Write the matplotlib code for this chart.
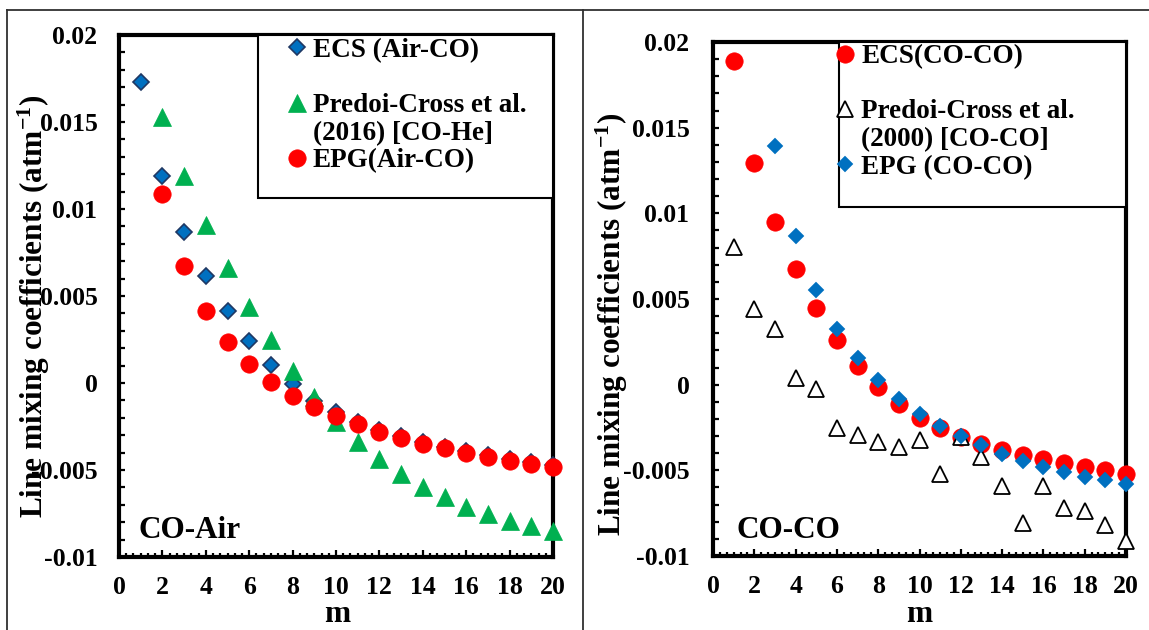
import matplotlib
matplotlib.use("Agg")
import matplotlib.pyplot as plt
from matplotlib.lines import Line2D
from matplotlib.patches import Rectangle
from matplotlib.ticker import FixedLocator, MultipleLocator, FixedFormatter

# ---- data -------------------------------------------------------------
m = list(range(1, 21))

# CO-Air panel
ecs_air_co = [0.01732, 0.01192, 0.00868, 0.00617, 0.00411, 0.00240, 0.00106,
              -0.00007, -0.00102, -0.00169, -0.00222, -0.00270, -0.00307,
              -0.00340, -0.00367, -0.00393, -0.00414, -0.00437, -0.00455,
              -0.00474]
predoi_2016_co_he = [0.01527, 0.01192, 0.00910, 0.00663, 0.00439, 0.00247,
                     0.00069, -0.00083, -0.00222, -0.00337, -0.00436,
                     -0.00522, -0.00596, -0.00656, -0.00711, -0.00755,
                     -0.00792, -0.00824, -0.00850]
m_predoi_2016 = list(range(2, 21))
epg_air_co = [0.01088, 0.00672, 0.00413, 0.00238, 0.00109, 0.00005, -0.00072,
              -0.00139, -0.00192, -0.00233, -0.00279, -0.00316, -0.00349,
              -0.00376, -0.00402, -0.00423, -0.00446, -0.00464, -0.00483]
m_epg_air = list(range(2, 21))

# CO-CO panel
ecs_co_co = [0.01890, 0.01296, 0.00949, 0.00673, 0.00446, 0.00262, 0.00109,
             -0.00012, -0.00115, -0.00193, -0.00253, -0.00303, -0.00345,
             -0.00380, -0.00410, -0.00436, -0.00460, -0.00481, -0.00499,
             -0.00523]
predoi_2000_co_co = [0.00801, 0.00444, 0.00327, 0.00037, -0.00024, -0.00251,
                     -0.00291, -0.00333, -0.00361, -0.00324, -0.00520,
                     -0.00303, -0.00422, -0.00590, -0.00806, -0.00590,
                     -0.00719, -0.00738, -0.00817, -0.00911]
epg_co_co = [0.01394, 0.00867, 0.00551, 0.00327, 0.00158, 0.00025, -0.00083,
             -0.00169, -0.00241, -0.00298, -0.00352, -0.00406, -0.00443,
             -0.00478, -0.00511, -0.00537, -0.00558, -0.00579]
m_epg_co = list(range(3, 21))

x_ticks = list(range(0, 21, 2))
y_ticks = [-0.01, -0.005, 0, 0.005, 0.01, 0.015, 0.02]
y_tick_labels = ["-0.01", "-0.005", "0", "0.005", "0.01", "0.015", "0.02"]

# ---- style ------------------------------------------------------------
plt.rcParams["font.family"] = ["Liberation Serif", "DejaVu Serif"]
plt.rcParams["font.weight"] = "bold"
plt.rcParams["mathtext.fontset"] = "custom"
plt.rcParams["mathtext.rm"] = "Liberation Serif:bold"
plt.rcParams["mathtext.it"] = "Liberation Serif:bold"
plt.rcParams["mathtext.bf"] = "Liberation Serif:bold"

W, H = 1149, 630
fig = plt.figure(figsize=(W / 100, H / 100), dpi=100)
fig.patch.set_facecolor("white")


def px_axes(x0, y0, x1, y1):
    return fig.add_axes([x0 / W, 1 - y1 / H, (x1 - x0) / W, (y1 - y0) / H])


ax1 = px_axes(119, 35, 553, 557)
ax2 = px_axes(713, 42, 1126, 556)

TICK_FS = 18.5
LABEL_FS = 22.5
LEG_FS = 19.5
ylabel_text = r"Line mixing coefficients (atm$^{\mathbf{-1}}$)"


def style_axes(ax, ylab_xy, xlab_xy, ypad):
    ax.set_xlim(0, 20)
    ax.set_ylim(-0.01, 0.02)
    ax.xaxis.set_major_locator(FixedLocator(x_ticks))
    ax.xaxis.set_minor_locator(MultipleLocator(1 / 3))
    ax.yaxis.set_major_locator(FixedLocator(y_ticks))
    ax.yaxis.set_major_formatter(FixedFormatter(y_tick_labels))
    ax.yaxis.set_minor_locator(MultipleLocator(0.001))
    for s in ax.spines.values():
        s.set_linewidth(3)
        s.set_color("black")
    ax.tick_params(axis="both", which="both", direction="in", color="black",
                   width=1.6, top=False, right=False)
    ax.tick_params(axis="y", which="major", length=4.5, pad=ypad,
                   labelsize=TICK_FS)
    ax.tick_params(axis="y", which="minor", length=4.5)
    ax.tick_params(axis="x", which="major", length=5, pad=14,
                   labelsize=TICK_FS)
    ax.tick_params(axis="x", which="minor", length=3)
    for lab in ax.get_xticklabels() + ax.get_yticklabels():
        lab.set_fontweight("bold")
    ax.set_ylabel(ylabel_text, fontsize=LABEL_FS, fontweight="bold")
    ax.yaxis.set_label_coords(*ylab_xy)
    ax.yaxis.label.set_va("center")
    ax.set_xlabel("m", fontsize=LABEL_FS, fontweight="bold")
    ax.xaxis.set_label_coords(*xlab_xy)
    ax.xaxis.label.set_va("center")


style_axes(ax1, (-0.196, 0.481), (0.502, -0.110), 15.5)
style_axes(ax2, (-0.245, 0.451), (0.499, -0.114), 17)

# ---- CO-Air panel -----------------------------------------------------
l_ecs, = ax1.plot(m, ecs_air_co, linestyle="none", marker="D", ms=8.4,
                  mfc="#0070C0", mec="#1F3864", mew=1.2, clip_on=False,
                  zorder=3)
l_tri, = ax1.plot(m_predoi_2016, predoi_2016_co_he, linestyle="none",
                  marker="^", ms=12.5, mfc="#00B050", mec="#00B050", mew=0.5,
                  clip_on=False, zorder=4)
l_epg, = ax1.plot(m_epg_air, epg_air_co, linestyle="none", marker="o",
                  ms=12.5, mfc="#FF0000", mec="#FF0000", mew=0.5,
                  clip_on=False, zorder=5)
ax1.text(0.046, 0.036, "CO-Air", transform=ax1.transAxes, fontsize=22.5,
         fontweight="bold", va="baseline", ha="left")

# ---- CO-CO panel ------------------------------------------------------
r_ecs, = ax2.plot(m, ecs_co_co, linestyle="none", marker="o", ms=12.5,
                  mfc="#FF0000", mec="#FF0000", mew=0.5, clip_on=False,
                  zorder=3)
r_tri, = ax2.plot(m, predoi_2000_co_co, linestyle="none", marker="^",
                  ms=12, mfc="white", mec="black", mew=1.3,
                  clip_on=False, zorder=4)
r_epg, = ax2.plot(m_epg_co, epg_co_co, linestyle="none", marker="D", ms=8.2,
                  mfc="#0070C0", mec="#0070C0", mew=0.3, clip_on=False,
                  zorder=5)
ax2.text(0.056, 0.035, "CO-CO", transform=ax2.transAxes, fontsize=22.5,
         fontweight="bold", va="baseline", ha="left")

# ---- legends ----------------------------------------------------------
blank = Line2D([], [], linestyle="none", marker="none")


def boxed_legend(ax, box, handles, labels, anchor):
    ax.add_patch(Rectangle((box[0], box[1]), 1 - box[0], 1 - box[1],
                           transform=ax.transAxes, facecolor="white",
                           edgecolor="black", linewidth=1.5, zorder=6,
                           clip_on=False))
    leg = ax.legend(handles, labels, loc="upper left", bbox_to_anchor=anchor,
                    bbox_transform=ax.transAxes, frameon=False,
                    handlelength=0.9, handletextpad=0.15,
                    labelspacing=0.1, borderpad=0, borderaxespad=0,
                    numpoints=1, prop={"weight": "bold", "size": LEG_FS})
    leg.set_zorder(7)
    return leg


boxed_legend(ax1, (0.320, 0.688),
             [l_ecs, blank, l_tri, blank, l_epg],
             ["ECS (Air-CO)", " ", "Predoi-Cross et al.", "(2016) [CO-He]",
              "EPG(Air-CO)"],
             (0.381, 0.995))
boxed_legend(ax2, (0.305, 0.679),
             [r_ecs, blank, r_tri, blank, r_epg],
             ["ECS(CO-CO)", " ", "Predoi-Cross et al.", "(2000) [CO-CO]",
              "EPG (CO-CO)"],
             (0.290, 0.996))

# ---- page frame -------------------------------------------------------
frame_kw = dict(color="#303030", linewidth=1.3, transform=fig.transFigure)
fig.add_artist(Line2D([7 / W, 1], [1 - 10 / H, 1 - 10 / H], **frame_kw))
fig.add_artist(Line2D([7 / W, 7 / W], [0, 1 - 10 / H], **frame_kw))
fig.add_artist(Line2D([583 / W, 583 / W], [0, 1 - 10 / H], **frame_kw))

fig.savefig("out.png", dpi=100, facecolor="white")
